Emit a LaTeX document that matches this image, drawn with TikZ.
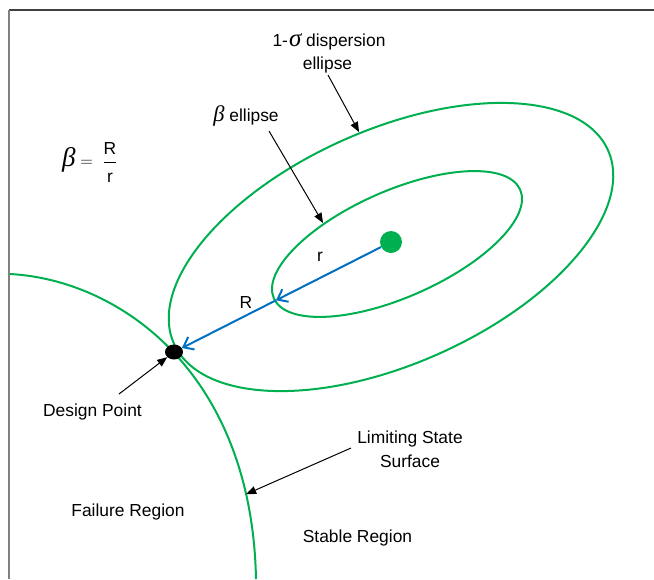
\documentclass[tikz,border=0pt]{standalone}
\usepackage{fontspec}
\setmainfont{Liberation Sans}
\newfontfamily\grk{Liberation Serif}
\usetikzlibrary{arrows.meta,shapes.geometric,calc}
\definecolor{lgreen}{RGB}{0,176,80}
\definecolor{lblue}{RGB}{0,112,192}
\begin{document}
\begin{tikzpicture}[x=1pt,y=-1pt,
  lbl/.style={font=\fontsize{17.4}{21}\selectfont, inner sep=0pt},
  gline/.style={draw=lgreen, line width=2pt},
  barr/.style={draw=lblue, line width=2pt, -{Straight Barb[length=9pt,width=14pt]}},
  karr/.style={draw=black, line width=1pt, -{Triangle[length=10pt,width=8pt]}}]
\useasboundingbox (0,0) rectangle (654,579);
% frame
\draw[line width=1.5pt, black!75] (9,10) -- (654,10);
\draw[line width=1.5pt, black!50] (9,10) -- (9,579);
% curves
\draw[gline, rotate around={24:(391,247)}] (391,247) ellipse [x radius=237.6pt, y radius=117pt];
\draw[gline, rotate around={23.8:(397,244)}] (397,244) ellipse [x radius=134.6pt, y radius=53.2pt];
\draw[gline] (10,274) .. controls (121,280) and (252,374) .. (256,579) coordinate[pos=0.85] (lsstip);
% points
\node[circle, fill=lgreen, minimum size=22pt, inner sep=0pt] (mu) at (391,242) {};
\node[ellipse, fill=black, minimum width=18pt, minimum height=15pt, inner sep=0pt] (dp) at (174,352) {};
% blue vector
\coordinate (mid) at ($(mu)!0.53!(dp)$);
\draw[barr] (mu) -- (mid);
\draw[barr] (mid) -- (dp);
% labels
\node[lbl, anchor=base] (sig1) at (329,46) {1-\kern1pt{\grk\itshape\fontsize{25}{28}\selectfont σ} dispersion};
\node[lbl, anchor=base] (sig2) at (327.5,69) {ellipse};
\node[lbl, anchor=base] (bell) at (246,121.5) {{\grk\itshape\fontsize{22.5}{26}\selectfont β} ellipse};
\node[lbl, anchor=base west] (beq) at (62,166.5) {{\grk\itshape\fontsize{27}{30}\selectfont β}$\;=\;\displaystyle\frac{\mbox{R}}{\mbox{\raisebox{-4pt}{r}}}$};
\node[lbl, anchor=base] (rl) at (320,261.7) {r};
\node[lbl, anchor=base] (Rl) at (246,308.7) {R};
\node[lbl, anchor=base] (dpl) at (92.5,416.7) {Design Point};
\node[lbl, anchor=base] (fail) at (128,516.7) {Failure Region};
\node[lbl, anchor=base] (lss1) at (410,443.3) {Limiting State};
\node[lbl, anchor=base] (lss2) at (410,467.3) {Surface};
\node[lbl, anchor=base] (stab) at (357.5,542.7) {Stable Region};
% pointer arrows
\coordinate (t1) at (328,75);
\coordinate (h1) at (359,132);
\coordinate (t2) at (269,131);
\coordinate (h2) at (323,223);
\coordinate (t3) at (119,394);
\coordinate (t4) at (351,448);
\draw[karr] (t1) -- (h1);
\draw[karr] (t2) -- (h2);
\draw[karr] (t3) -- (dp);
\draw[karr] (t4) -- (lsstip);
\end{tikzpicture}
\end{document}
